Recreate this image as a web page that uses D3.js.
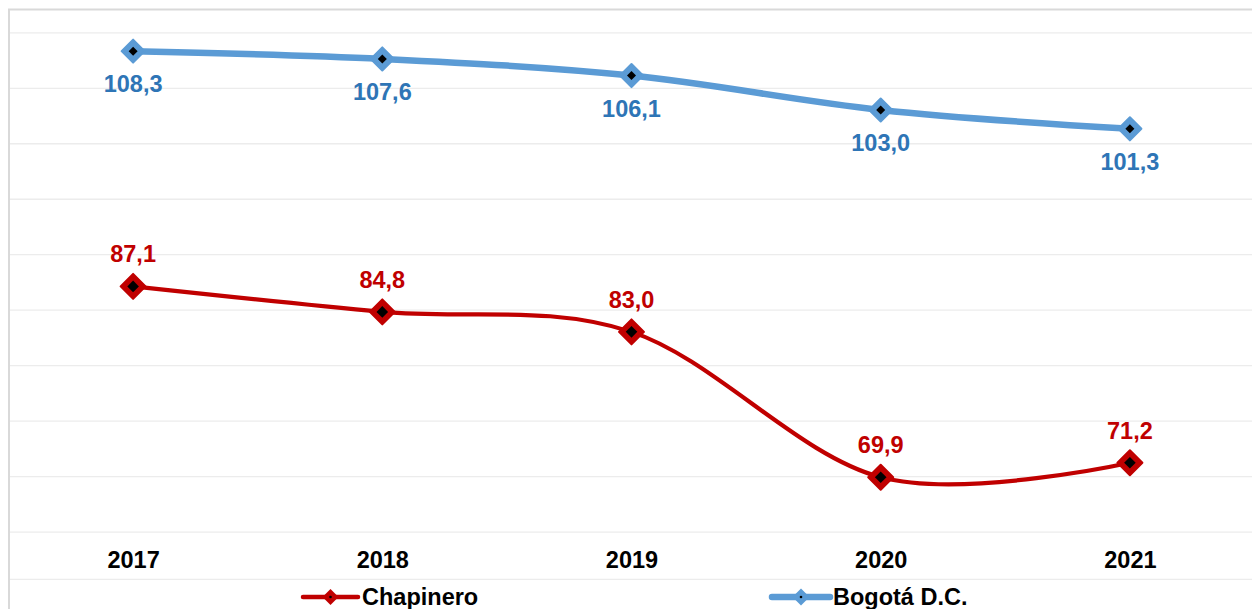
<!DOCTYPE html>
<html><head><meta charset="utf-8">
<script src="https://cdn.jsdelivr.net/npm/d3@7"></script>
<style>html,body{margin:0;padding:0;background:#fff;overflow:hidden}</style>
</head><body>
<svg id="c" width="1252" height="609"></svg>
<script>
const years = ["2017","2018","2019","2020","2021"];
const chapinero = [87.1, 84.8, 83.0, 69.9, 71.2];
const bogota = [108.3, 107.6, 106.1, 103.0, 101.3];
const gridValues = [65,70,75,80,85,90,95,100,105,110];
const seriesNames = ["Chapinero","Bogotá D.C."];

const svg = d3.select("#c");
const font = "'Liberation Sans', Arial, sans-serif";
const x = d3.scalePoint().domain(years).range([8.5,1254.5]).padding(0.5);
const y = d3.scaleLinear().domain([60.7,110]).range([579.3,32.3]);

// frame
svg.append("rect").attr("x",9).attr("y",9.5).attr("width",1260).attr("height",620)
  .attr("fill","none").attr("stroke","#d9d9d9").attr("stroke-width",2);

// gridlines
const yAxis = d3.axisLeft(y).tickValues(gridValues).tickSize(-1250).tickFormat("");
const g = svg.append("g").attr("transform","translate(10,0)").call(yAxis);
g.select(".domain").remove();
g.selectAll(".tick line").attr("stroke","#ececec").attr("stroke-width",1.3);
svg.append("line").attr("x1",10).attr("x2",1252).attr("y1",y.range()[0]).attr("y2",y.range()[0])
  .attr("stroke","#ececec").attr("stroke-width",1.3);

// x labels
const xAxis = d3.axisBottom(x).tickSize(0).tickPadding(0);
const xg = svg.append("g").attr("transform","translate(0,550)").call(xAxis);
xg.select(".domain").remove();
xg.selectAll("text").attr("font-family",font).attr("font-size",23.5).attr("font-weight","bold")
  .attr("fill","#000").attr("dy",null).attr("y",18.3);

const line = d3.line().x((d,i)=>x(years[i])).y(d=>y(d)).curve(d3.curveCardinal.tension(0));

function diamond(r){return `M0,${-r}L${r},0L0,${r}L${-r},0Z`;}

// Bogota
svg.append("path").datum(bogota).attr("d",line).attr("fill","none")
  .attr("stroke","#5b9bd5").attr("stroke-width",6.5).attr("stroke-linejoin","round");
// Chapinero
svg.append("path").datum(chapinero).attr("d",line).attr("fill","none")
  .attr("stroke","#c00000").attr("stroke-width",4.2).attr("stroke-linejoin","round");

function markers(data, col, r, ri){
  const m = svg.append("g").selectAll("g").data(data).join("g")
    .attr("transform",(d,i)=>`translate(${x(years[i])},${y(d)})`);
  m.append("path").attr("d",diamond(r)).attr("fill",col).attr("stroke",col).attr("stroke-width",2).attr("stroke-linejoin","round");
  m.append("path").attr("d",diamond(ri)).attr("fill","#000");
}
markers(bogota,"#5b9bd5",11.5,4.5);
markers(chapinero,"#c00000",12.5,5.8);

const fmt = v => v.toFixed(1).replace(".",",");
svg.append("g").selectAll("text").data(bogota).join("text")
  .attr("x",(d,i)=>x(years[i])).attr("y",d=>y(d)+41)
  .attr("text-anchor","middle").attr("font-family",font).attr("font-size",23.5).attr("font-weight","bold")
  .attr("fill","#2e75b6").text(fmt);
svg.append("g").selectAll("text").data(chapinero).join("text")
  .attr("x",(d,i)=>x(years[i])).attr("y",d=>y(d)-24)
  .attr("text-anchor","middle").attr("font-family",font).attr("font-size",23.5).attr("font-weight","bold")
  .attr("fill","#c00000").text(fmt);

// legend
const legendItems = [
  {name:seriesNames[0], col:"#c00000", w:4.5, x1:303, x2:358, r:8, tx:362},
  {name:seriesNames[1], col:"#5b9bd5", w:6.5, x1:772, x2:830, r:8.5, tx:833}
];
const lg = svg.append("g").selectAll("g").data(legendItems).join("g");
lg.append("line").attr("x1",d=>d.x1).attr("x2",d=>d.x2).attr("y1",597).attr("y2",597)
  .attr("stroke",d=>d.col).attr("stroke-width",d=>d.w).attr("stroke-linecap","round");
lg.append("path").attr("transform",d=>`translate(${(d.x1+d.x2)/2},597)`).attr("d",d=>diamond(d.r)).attr("fill",d=>d.col);
lg.append("circle").attr("cx",d=>(d.x1+d.x2)/2).attr("cy",597).attr("r",1.3).attr("fill","#000");
lg.append("text").attr("x",d=>d.tx).attr("y",605).attr("font-family",font).attr("font-size",23.5)
  .attr("font-weight","bold").attr("fill","#000").text(d=>d.name);
</script>
</body></html>
